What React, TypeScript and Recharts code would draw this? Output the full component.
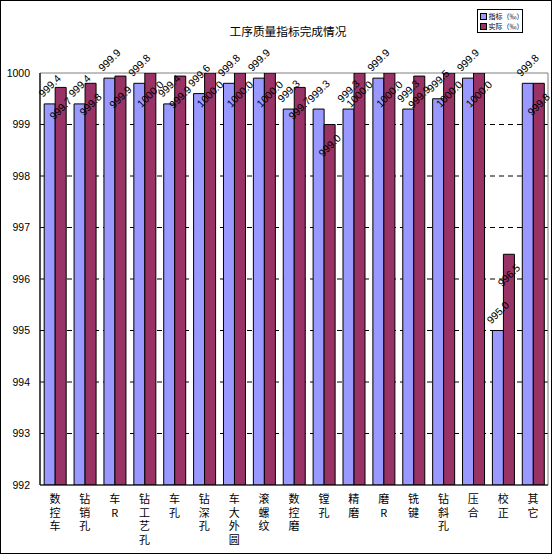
import React from 'react';
import {
  BarChart,
  Bar,
  XAxis,
  YAxis,
  CartesianGrid,
  LabelList,
  ReferenceArea,
} from 'recharts';

const categories = [
  '数控车', '钻销孔', '车R', '钻工艺孔', '车孔', '钻深孔', '车大外圆', '滚螺纹',
  '数控磨', '镗孔', '精磨', '磨R', '铣键', '钻斜孔', '压合', '校正', '其它',
];
const planValues = [
  999.4, 999.4, 999.9, 999.8, 999.4, 999.6, 999.8, 999.9,
  999.3, 999.3, 999.3, 999.9, 999.3, 999.5, 999.9, 995.0, 999.8,
];
const actualValues = [
  999.72, 999.8, 999.94, 1000.0, 999.94, 1000.0, 1000.0, 1000.0,
  999.72, 999.0, 1000.0, 1000.0, 999.94, 1000.0, 1000.0, 996.48, 999.8,
];
const yTicks = [992, 993, 994, 995, 996, 997, 998, 999, 1000];
const gridValues = [993, 994, 995, 996, 997, 998, 999];
const boundaryTicks = categories.slice(1).map((_, i) => i + 1);

const titleText = '工序质量指标完成情况';
const seriesNames = ['指标（‰）', '实际（‰）'];
const seriesColors = ['#9999FF', '#993366'];

const data = categories.map((name, i) => ({
  name,
  plan: planValues[i],
  actual: actualValues[i],
}));

const CJK = '"Noto Sans CJK SC", "Noto Sans", sans-serif';
const NUM = '"Liberation Sans", Arial, sans-serif';

const makeLabel = (offset: number) => (props: any) => {
  const { x, y, width, value } = props;
  if (value == null) return null;
  const cx = Number(x) + Number(width) / 2;
  const cy = Number(y) + offset;
  return (
    <g transform={`translate(${cx}, ${cy}) rotate(-45)`}>
      <text
        x={0}
        y={0}
        textAnchor="middle"
        dy="0.35em"
        fontSize={10.5}
        fontFamily={NUM}
        fill="#000"
      >
        {Number(value).toFixed(1)}
      </text>
    </g>
  );
};

const VerticalTick = (props: any) => {
  const { x, y, payload } = props;
  const chars = Array.from(String(payload.value));
  return (
    <text x={x} y={y} textAnchor="middle" fontSize={11} fontFamily={CJK} fill="#000">
      {chars.map((c, i) => (
        <tspan key={i} x={x} dy={i === 0 ? 10 : 13.5}>
          {c}
        </tspan>
      ))}
    </text>
  );
};

export default function App() {
  return (
    <div style={{ position: 'absolute', left: 0, top: 0, width: 553, height: 556, background: '#fff' }}>
      <BarChart
        width={553}
        height={556}
        data={data}
        margin={{ top: 73, right: 5, bottom: 0, left: 0 }}
        barCategoryGap="14%"
        barGap={0}
      >
        <CartesianGrid
          horizontal
          vertical={false}
          horizontalValues={gridValues}
          stroke="#000"
          strokeDasharray="5 4"
        />
        <ReferenceArea y1={992} y2={1000} fill="none" stroke="#808080" strokeWidth={1} ifOverflow="extendDomain" />
        <XAxis
          xAxisId="bound"
          type="number"
          domain={[0, categories.length]}
          ticks={boundaryTicks}
          allowDataOverflow
          height={0}
          tick={false}
          axisLine={false}
          tickLine={{ stroke: '#000' }}
          tickSize={3}
          mirror
        />
        <XAxis
          dataKey="name"
          height={71}
          interval={0}
          tickLine={false}
          axisLine={{ stroke: '#000', strokeWidth: 1.2 }}
          tick={<VerticalTick />}
        />
        <YAxis
          domain={[992, 1000]}
          ticks={yTicks}
          width={40}
          allowDataOverflow
          tickLine={false}
          tickSize={6}
          tickMargin={4}
          axisLine={{ stroke: '#000', strokeWidth: 1.2 }}
          tick={{ fontSize: 10.5, fill: '#000', fontFamily: NUM }}
        />
        <Bar dataKey="plan" fill={seriesColors[0]} stroke="#000" strokeWidth={1} isAnimationActive={false}>
          <LabelList dataKey="plan" content={makeLabel(-18)} />
        </Bar>
        <Bar dataKey="actual" fill={seriesColors[1]} stroke="#000" strokeWidth={1} isAnimationActive={false}>
          <LabelList dataKey="actual" content={makeLabel(21)} />
        </Bar>
      </BarChart>

      <div
        style={{
          position: 'absolute',
          left: 0,
          top: 23,
          width: 576,
          textAlign: 'center',
          fontFamily: CJK,
          fontSize: 11.7,
          lineHeight: '16px',
          color: '#000',
          whiteSpace: 'nowrap',
        }}
      >
        {titleText}
      </div>

      <div
        style={{
          position: 'absolute',
          left: 477,
          top: 9,
          width: 46,
          height: 24,
          boxSizing: 'border-box',
          border: '1px solid #000',
          background: '#fff',
          fontFamily: CJK,
          fontSize: 7,
          color: '#000',
        }}
      >
        {seriesNames.map((n, i) => (
          <div
            key={n}
            style={{
              position: 'absolute',
              left: 2,
              top: 2 + i * 10,
              height: 9,
              display: 'flex',
              alignItems: 'center',
              whiteSpace: 'nowrap',
              lineHeight: '9px',
            }}
          >
            <span
              style={{
                display: 'inline-block',
                width: 5,
                height: 5,
                background: seriesColors[i],
                border: '0.5px solid #000',
                marginRight: 1.5,
              }}
            />
            {n}
          </div>
        ))}
      </div>

      <div
        style={{
          position: 'absolute',
          left: 0,
          top: 0,
          width: 552,
          height: 554,
          boxSizing: 'border-box',
          border: '1.5px solid #000',
          pointerEvents: 'none',
        }}
      />
    </div>
  );
}
